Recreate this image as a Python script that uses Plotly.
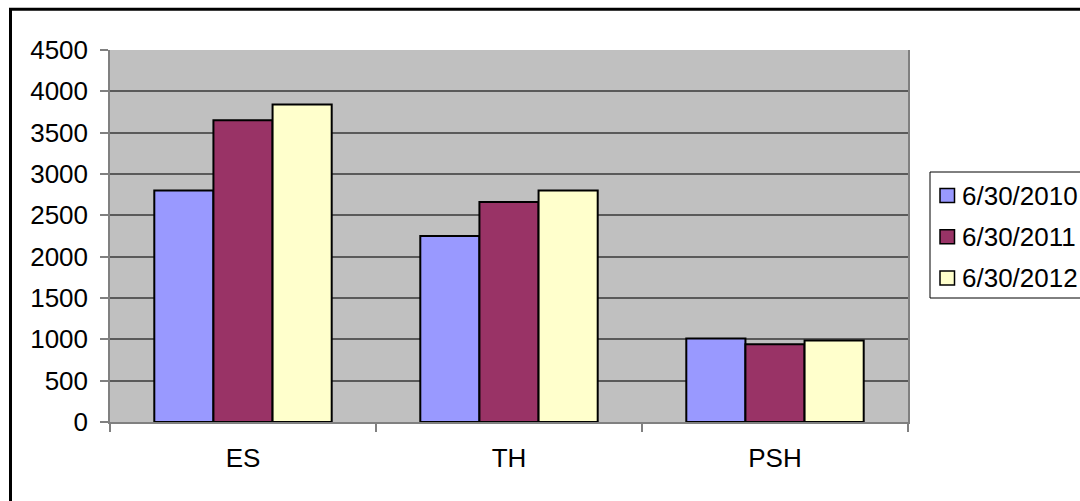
import plotly.graph_objects as go

categories = ["ES", "TH", "PSH"]
series_names = ["6/30/2010", "6/30/2011", "6/30/2012"]
values_2010 = [2800, 2250, 1010]
values_2011 = [3650, 2660, 940]
values_2012 = [3840, 2800, 985]
colors = ["#9999FF", "#993366", "#FFFFCC"]
y_ticks = [0, 500, 1000, 1500, 2000, 2500, 3000, 3500, 4000, 4500]

W, H = 1080, 501
ML, MT = 110, 50
PLOT_R, PLOT_B = 908, 422
MR, MB = W - PLOT_R, H - PLOT_B
PW, PH = W - ML - MR, H - MT - MB


def px_x(p):
    return (p - ML) / PW


def px_y(p):
    return 1 - (p - MT) / PH


fig = go.Figure()
for name, vals, col in zip(series_names, [values_2010, values_2011, values_2012], colors):
    fig.add_trace(go.Bar(
        x=categories, y=vals, name=name,
        marker=dict(color=col, line=dict(color="#000000", width=2)),
        showlegend=False,
    ))

font_family = "Liberation Sans, Arial, sans-serif"
FS = 26

# legend drawn by hand (Excel-like box that runs past the right edge)
LEG_X0, LEG_Y0, LEG_Y1 = 930, 172, 298
LEG_ROW0, LEG_ROW_STEP = 195.5, 41.3
shapes = [
    dict(type="rect", xref="paper", yref="paper",
         x0=px_x(LEG_X0), y0=px_y(LEG_Y0), x1=px_x(1100), y1=px_y(LEG_Y1),
         line=dict(color="#000000", width=1), fillcolor="#FFFFFF", layer="above"),
]
annotations = []
for i, (name, col) in enumerate(zip(series_names, colors)):
    cy = LEG_ROW0 + i * LEG_ROW_STEP
    shapes.append(dict(type="rect", xref="paper", yref="paper",
                       x0=px_x(940), x1=px_x(954.5), y0=px_y(cy - 7), y1=px_y(cy + 7),
                       line=dict(color="#000000", width=1.5), fillcolor=col, layer="above"))
    annotations.append(dict(xref="paper", yref="paper", x=px_x(960), y=px_y(cy),
                            xanchor="left", yanchor="middle", showarrow=False, text=name,
                            font=dict(family=font_family, size=FS, color="#000000")))

# outer chart border
shapes.append(dict(type="rect", xref="paper", yref="paper",
                   x0=px_x(10.5), y0=px_y(9.3), x1=px_x(1100), y1=px_y(530),
                   line=dict(color="#000000", width=3), fillcolor="rgba(0,0,0,0)", layer="above"))

fig.update_layout(
    width=W, height=H,
    margin=dict(l=ML, r=MR, t=MT, b=MB),
    paper_bgcolor="#FFFFFF",
    plot_bgcolor="#C0C0C0",
    barmode="group",
    bargap=0.333,
    bargroupgap=0,
    font=dict(family=font_family, size=FS, color="#000000"),
    showlegend=False,
    xaxis=dict(
        type="category",
        showline=True, linecolor="#808080", linewidth=1.5,
        ticks="outside", tickson="boundaries", ticklen=8, tickcolor="#808080", tickwidth=1.5,
        ticklabelstandoff=12,
        showgrid=False, zeroline=False, fixedrange=True,
        tickfont=dict(family=font_family, size=FS, color="#000000"),
    ),
    yaxis=dict(
        range=[0, 4500], tickvals=y_ticks,
        showline=True, linecolor="#808080", linewidth=1.5, mirror=True,
        ticks="outside", ticklen=8, tickcolor="#808080", tickwidth=1.5,
        ticklabelstandoff=7,
        showgrid=True, gridcolor="#5a5a5a", gridwidth=1.5,
        zeroline=False, fixedrange=True,
        tickfont=dict(family=font_family, size=FS, color="#000000"),
    ),
    shapes=shapes,
    annotations=annotations,
)

fig.write_html(
    "out.html",
    config={"displayModeBar": False},
    post_script="document.body.style.margin='0px'; document.body.style.overflow='hidden';",
)
